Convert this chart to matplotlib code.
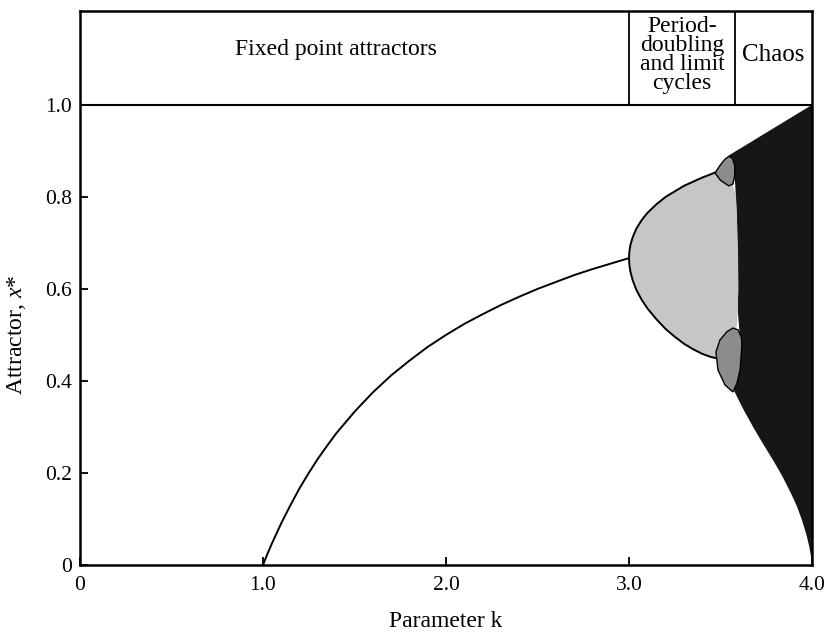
import matplotlib
matplotlib.use("Agg")
import matplotlib.pyplot as plt

plt.rcParams['font.family'] = ['Liberation Serif', 'DejaVu Serif']
plt.rcParams['mathtext.fontset'] = 'custom'
plt.rcParams['mathtext.it'] = 'Liberation Serif:italic'
plt.rcParams['mathtext.rm'] = 'Liberation Serif'

# Fixed-point branch
fp_k = [1.0, 1.02, 1.05, 1.1, 1.15, 1.2, 1.25, 1.3, 1.35, 1.4, 1.5, 1.6, 1.7, 1.8, 1.9,
        2.0, 2.1, 2.2, 2.3, 2.4, 2.5, 2.6, 2.7, 2.8, 2.9, 3.0]
fp_x = [0.0, 0.02, 0.048, 0.091, 0.13, 0.167, 0.2, 0.231, 0.259, 0.286, 0.333, 0.375, 0.412,
        0.444, 0.474, 0.5, 0.524, 0.545, 0.565, 0.583, 0.6, 0.615, 0.63, 0.643, 0.655, 0.667]

# Period-two branches
p2_k = [3.0, 3.002, 3.008, 3.02, 3.04, 3.07, 3.1, 3.15, 3.2, 3.25, 3.3, 3.35, 3.4, 3.44, 3.47]
p2_upper = [0.667, 0.681, 0.696, 0.712, 0.731, 0.750, 0.765, 0.784, 0.80, 0.812, 0.824,
            0.833, 0.842, 0.848, 0.853]
p2_lower = [0.667, 0.652, 0.637, 0.619, 0.598, 0.576, 0.558, 0.534, 0.513, 0.496, 0.481,
            0.469, 0.459, 0.453, 0.45]

# Right edge of the period-two (light grey) region
p2_edge_k = [3.47, 3.56, 3.585, 3.595, 3.598, 3.59, 3.55, 3.47]
p2_edge_x = [0.853, 0.84, 0.80, 0.70, 0.60, 0.52, 0.49, 0.45]

# Period-four lobes
lobe_up_k = [3.47, 3.50, 3.525, 3.545, 3.565, 3.578, 3.578, 3.568, 3.545, 3.50, 3.47]
lobe_up_x = [0.852, 0.870, 0.882, 0.888, 0.884, 0.868, 0.848, 0.828, 0.824, 0.836, 0.852]
lobe_lo_k = [3.475, 3.497, 3.535, 3.568, 3.596, 3.614, 3.617, 3.607, 3.590, 3.568, 3.525, 3.486, 3.475]
lobe_lo_x = [0.463, 0.489, 0.507, 0.515, 0.511, 0.495, 0.478, 0.424, 0.395, 0.376, 0.391, 0.424, 0.463]

# Chaotic band
chaos_top_k = [3.545, 4.0]
chaos_top_x = [0.890, 1.0]
chaos_bot_k = [4.0, 3.995, 3.985, 3.97, 3.945, 3.915, 3.88, 3.835, 3.787, 3.73, 3.678, 3.62, 3.575]
chaos_bot_x = [0.0, 0.018, 0.04, 0.065, 0.098, 0.13, 0.16, 0.195, 0.228, 0.265, 0.30, 0.342, 0.378]
chaos_left_k = [3.60, 3.605, 3.595, 3.59, 3.59, 3.58, 3.56]
chaos_left_x = [0.42, 0.50, 0.55, 0.65, 0.75, 0.83, 0.88]

# Header regions
region_bounds = [3.0, 3.58]
region_labels = ["Fixed point attractors", "Period-\ndoubling\nand limit\ncycles", "Chaos"]
region_label_k = [1.40, 3.29, 3.79]
region_label_y = [1.12, 1.108, 1.108]

xtick_vals = [0, 1, 2, 3, 4]
xtick_labels = ["0", "1.0", "2.0", "3.0", "4.0"]
ytick_vals = [0, 0.2, 0.4, 0.6, 0.8, 1.0]
ytick_labels = ["0", "0.2", "0.4", "0.6", "0.8", "1.0"]

fig = plt.figure(figsize=(8.31, 6.36), dpi=100)
ax = fig.add_axes([80/831, 71/636, 732/831, 554/636])
ax.set_xlim(0, 4.0)
ax.set_ylim(0, 1.204)

# chaotic region
ck = chaos_top_k + chaos_bot_k + chaos_left_k
cx = chaos_top_x + chaos_bot_x + chaos_left_x
ax.fill(ck, cx, color='#161616', lw=0, zorder=1)

# period-two region
gk = p2_k + p2_edge_k[1:-1] + p2_k[::-1]
gx = p2_upper + p2_edge_x[1:-1] + p2_lower[::-1]
ax.fill(gk, gx, color='#c6c6c6', lw=0, zorder=2)

# lobes
ax.fill(lobe_up_k, lobe_up_x, facecolor='#8c8c8c', edgecolor='black', lw=1.0, zorder=3)
ax.fill(lobe_lo_k, lobe_lo_x, facecolor='#8c8c8c', edgecolor='black', lw=1.0, zorder=3)

# curves
ax.plot(fp_k, fp_x, color='black', lw=1.4, zorder=4)
ax.plot(p2_k, p2_upper, color='black', lw=1.4, zorder=4)
ax.plot(p2_k, p2_lower, color='black', lw=1.4, zorder=4)

# header
ax.axhline(1.0, color='black', lw=1.5, zorder=5)
for b in region_bounds:
    ax.plot([b, b], [1.0, 1.204], color='black', lw=1.3, zorder=5)
sizes = [17, 17, 18]
for lab, kx, ky, s in zip(region_labels, region_label_k, region_label_y, sizes):
    ax.text(kx, ky, lab, ha='center', va='center', fontsize=s, linespacing=0.88)

for sp in ax.spines.values():
    sp.set_linewidth(1.8)

ax.set_xticks(xtick_vals)
ax.set_xticklabels(xtick_labels)
ax.set_yticks(ytick_vals)
ax.set_yticklabels(ytick_labels)
ax.tick_params(direction='in', length=6, width=1.3, labelsize=15.5)
ax.tick_params(axis='y', pad=6)
ax.tick_params(axis='x', pad=8)

ax.set_xlabel("Parameter k", fontsize=17)
ax.xaxis.set_label_coords(0.5, -0.083)
ax.set_ylabel("Attractor, $x$*", fontsize=17)
ax.yaxis.set_label_coords(-0.071, 0.5 / 1.204)

fig.savefig("out.png", dpi=100)
